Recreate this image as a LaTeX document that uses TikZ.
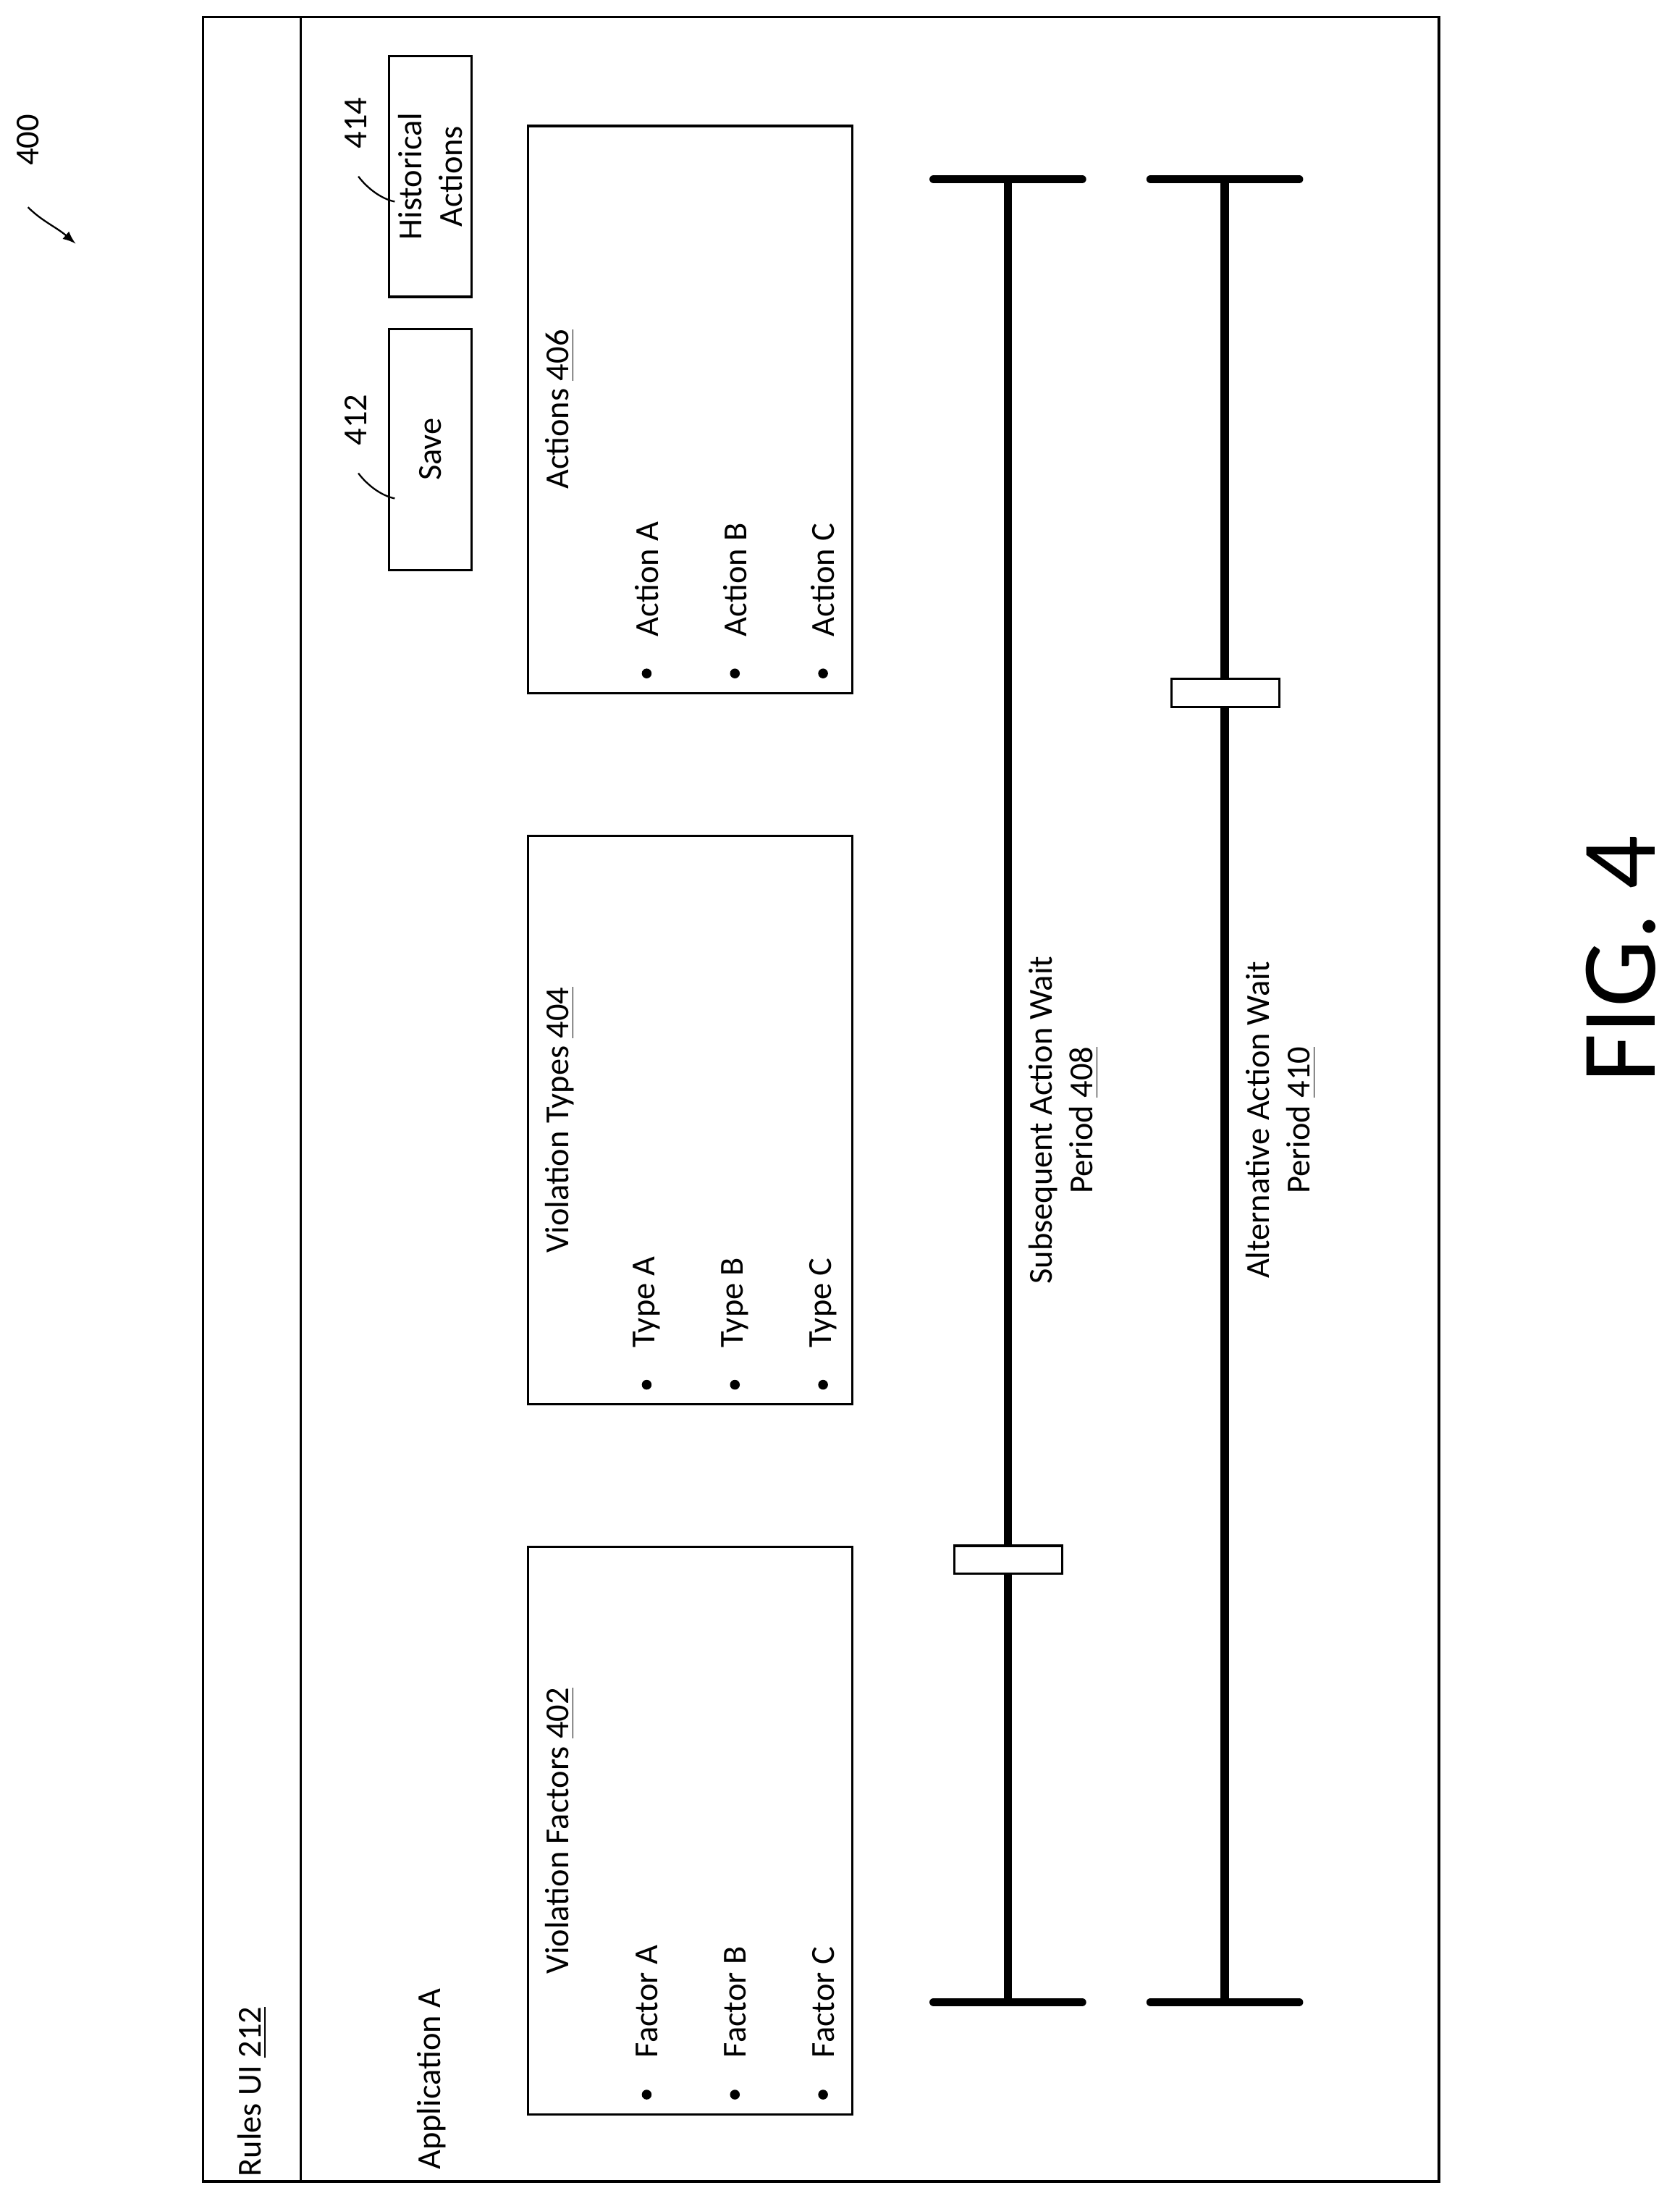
\documentclass[tikz,border=0pt]{standalone}
\usepackage{fontspec}
\setmainfont{Carlito}
\begin{document}
\begin{tikzpicture}[x=0.5pt,y=-0.5pt,
  box/.style={draw,line width=0.8pt},
  rt/.style={rotate=90,inner sep=0pt,font=\fontsize{12}{14.5}\selectfont},
  bar/.style={line width=3pt},
  handle/.style={draw,fill=white,line width=0.8pt},
  dot/.style={circle,fill,inner sep=0pt,minimum size=3.5pt}]
\useasboundingbox (0,0) rectangle (1200,1572);
\draw[box] (145,12) rectangle (1028,1558);
\draw[line width=0.8pt] (215,12) -- (215,1558);
\node[rt,anchor=west] (title) at (180,1555) {Rules UI \underline{212}};
\node[rt,anchor=west] (app) at (308,1550) {Application A};
% boxes
\foreach \n/\ya/\yb/\t/\l/\num in {f/1105/1510/Violation Factors/Factor/402, v/597/1003/Violation Types/Type/404, a/90/495/Actions/Action/406}{
  \draw[box] (377,\ya) rectangle (609,\yb);
  \node[rt] (\n t) at (400,{(\ya+\yb)/2}) {\t\ \underline{\num}};
  \foreach \x/\c in {462/A,525/B,588/C}{
    \node[dot] (\n d\c) at (\x,\yb-14) {};
    \node[rt,anchor=west] (\n l\c) at (\x,\yb-40) {\l\ \c};
  }
}
% buttons
\node[box,minimum width=86pt,minimum height=29.5pt,rotate=90,font=\fontsize{12}{14.5}\selectfont] (save) at (307.5,321) {Save};
\node[box,minimum width=86pt,minimum height=29.5pt,rotate=90,align=center,font=\fontsize{12}{14.5}\selectfont] (hist) at (307.5,126) {Historical\\Actions};
\node[rt] (l412) at (254,300) {412};
\node[rt] (l414) at (254,88) {414};
\draw[line width=0.6pt] (256,338) .. controls (262,346) and (272,354) .. (282,356);
\draw[line width=0.6pt] (256,126) .. controls (262,134) and (272,142) .. (282,144);
\node[rt] (l400) at (20,100) {400};
\draw[line width=0.6pt,-latex] (20,148) .. controls (30,158) and (40,162) .. (54,174);
% sliders
\foreach \x/\h/\la/\lb in {720/1114/Subsequent Action Wait/408, 875/495/Alternative Action Wait/410}{
  \draw[bar] (\x,128) -- (\x,1430);
  \draw[bar,line cap=round] (\x-53,128) -- (\x+53,128);
  \draw[bar,line cap=round] (\x-53,1430) -- (\x+53,1430);
  \draw[handle] (\x-38,\h-10) rectangle (\x+39,\h+10);
  \node[rt,align=center] at (\x+40,800) {\la\\Period \underline{\lb}};
}
\node[rotate=90,font=\fontsize{38}{46}\selectfont,inner sep=0pt] (fig) at (1158,685) {FIG. 4};
\end{tikzpicture}
\end{document}
